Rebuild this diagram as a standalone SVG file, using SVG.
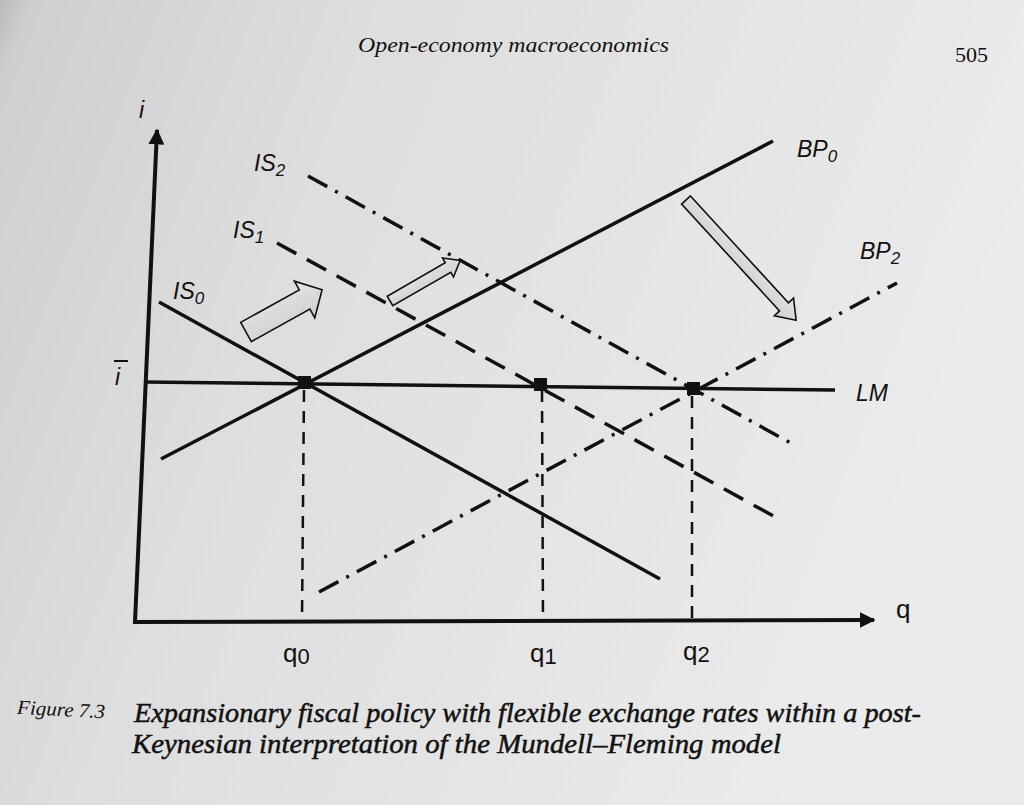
<svg xmlns="http://www.w3.org/2000/svg" width="1024" height="805" viewBox="0 0 1024 805">
  <defs>
    <linearGradient id="paper" x1="0" y1="0" x2="1" y2="0.3">
      <stop offset="0" stop-color="#b9b9b9"/>
      <stop offset="0.03" stop-color="#cfcfcf"/>
      <stop offset="0.35" stop-color="#dedede"/>
      <stop offset="1" stop-color="#ebebeb"/>
    </linearGradient>
    <linearGradient id="arrowFill" x1="0" y1="0" x2="0" y2="1">
      <stop offset="0" stop-color="#e4e4e4"/>
      <stop offset="1" stop-color="#cfcfcf"/>
    </linearGradient>
    <marker id="axHead" viewBox="0 0 10 10" refX="9" refY="5" markerWidth="4" markerHeight="4" orient="auto" markerUnits="strokeWidth">
      <path d="M0,0 L10,5 L0,10 Z" fill="#111"/>
    </marker>
    <style>
      .axis { stroke:#111; stroke-width:4; fill:none; }
      .solid { stroke:#111; stroke-width:3.5; fill:none; stroke-linecap:butt; }
      .dash { stroke:#111; stroke-width:3.5; fill:none; stroke-dasharray:22 12; }
      .dashdot { stroke:#111; stroke-width:3.5; fill:none; stroke-dasharray:22 9 3 9; }
      .drop { stroke:#111; stroke-width:2.5; fill:none; stroke-dasharray:12 9; }
      .pt { fill:#111; }
      .blk { fill:url(#arrowFill); stroke:#111; stroke-width:1.6; stroke-linejoin:miter; }
      .lbl { font-family:"Liberation Sans", Arial, sans-serif; font-style:italic; font-size:23px; fill:#111; }
      .lblU { font-family:"Liberation Sans", Arial, sans-serif; font-size:26px; fill:#111; }
      .sub { font-size:17px; }
      .subq { font-size:22px; }
      .serif { font-family:"Liberation Serif", "Times New Roman", serif; font-style:italic; fill:#111; }
      .cap { stroke:#111; stroke-width:0.5; }
    </style>
  </defs>

  <rect x="0" y="0" width="1024" height="805" fill="url(#paper)"/>

  <!-- header -->
  <g id="header">
    <text class="serif" x="358" y="52" font-size="21" textLength="311" lengthAdjust="spacingAndGlyphs">Open-economy macroeconomics</text>
    <text x="955" y="62" font-family="Liberation Serif, Times New Roman, serif" font-size="21" fill="#111" textLength="33" lengthAdjust="spacingAndGlyphs">505</text>
  </g>

  <!-- axes -->
  <g id="axes">
    <line class="axis" x1="135" y1="622" x2="157" y2="130" marker-end="url(#axHead)"/>
    <line class="axis" x1="133" y1="622" x2="874" y2="620" marker-end="url(#axHead)"/>
    <text id="label-i" class="lbl" x="139" y="118" font-size="20">i</text>
    <g id="label-ibar">
      <line x1="114" y1="361" x2="128" y2="361" stroke="#111" stroke-width="2"/>
      <text class="lbl" x="115" y="385" font-size="20">i</text>
    </g>
    <text id="label-q" class="lblU" x="896" y="618">q</text>
  </g>

  <!-- connectors / curves -->
  <g id="curves">
    <line id="LM" class="solid" x1="145" y1="382" x2="835" y2="390"/>
    <line id="IS0" class="solid" x1="159" y1="302" x2="660" y2="579"/>
    <line id="BP0" class="solid" x1="161" y1="459" x2="773" y2="141"/>
    <line id="IS1" class="dash" x1="277" y1="243" x2="777" y2="518"/>
    <line id="IS2" class="dashdot" x1="308" y1="176" x2="796" y2="446"/>
    <line id="BP2" class="dashdot" x1="319" y1="592" x2="897" y2="283"/>
    <line class="drop" x1="304" y1="390" x2="302" y2="620"/>
    <line class="drop" x1="542" y1="390" x2="543" y2="620"/>
    <line class="drop" x1="692" y1="396" x2="692" y2="620"/>
  </g>

  <!-- equilibrium points -->
  <g id="points">
    <rect class="pt" x="298" y="376" width="13" height="13"/>
    <rect class="pt" x="534" y="378" width="13" height="13"/>
    <rect class="pt" x="687" y="382" width="13" height="13"/>
  </g>

  <!-- shift arrows -->
  <g id="shift-arrows">
    <polygon class="blk" transform="translate(246,332) rotate(-29)" points="0,-11 67,-11 67,-21 87,0 67,21 67,11 0,11"/>
    <polygon class="blk" transform="translate(390,301) rotate(-30)" points="0,-5.5 67,-5.5 67,-11 81,0 67,11 67,5.5 0,5.5"/>
    <polygon class="blk" transform="translate(686,200) rotate(47.5)" points="0,-6 145,-6 145,-13 163,0 145,13 145,6 0,6"/>
  </g>

  <!-- curve labels -->
  <g id="labels">
    <text class="lbl" x="173" y="299">IS<tspan class="sub" dy="5">0</tspan></text>
    <text class="lbl" x="233" y="238">IS<tspan class="sub" dy="5">1</tspan></text>
    <text class="lbl" x="254" y="171">IS<tspan class="sub" dy="5">2</tspan></text>
    <text class="lbl" x="797" y="157">BP<tspan class="sub" dy="5">0</tspan></text>
    <text class="lbl" x="860" y="259">BP<tspan class="sub" dy="5">2</tspan></text>
    <text class="lbl" x="856" y="401">LM</text>
    <text class="lblU" x="283" y="662">q<tspan class="subq" dy="2">0</tspan></text>
    <text class="lblU" x="530" y="662">q<tspan class="subq" dy="2">1</tspan></text>
    <text class="lblU" x="683" y="660">q<tspan class="subq" dy="2">2</tspan></text>
  </g>

  <!-- caption -->
  <g id="caption">
    <text class="serif" x="17" y="716" font-size="20" transform="rotate(3 60 712)" textLength="88" lengthAdjust="spacingAndGlyphs">Figure 7.3</text>
    <text class="serif cap" x="134" y="722" font-size="28" textLength="787" lengthAdjust="spacingAndGlyphs">Expansionary fiscal policy with flexible exchange rates within a post-</text>
    <text class="serif cap" x="132" y="753" font-size="28" textLength="649" lengthAdjust="spacingAndGlyphs">Keynesian interpretation of the Mundell–Fleming model</text>
  </g>
</svg>
